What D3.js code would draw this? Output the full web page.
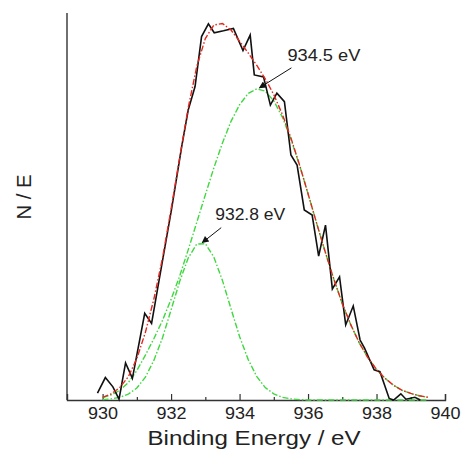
<!DOCTYPE html>
<html>
<head>
<meta charset="utf-8">
<script src="https://cdn.jsdelivr.net/npm/d3@7"></script>
<style>
    body { margin: 0; background: #fff; }
    svg { font-family: "Liberation Sans", Arial, sans-serif; }
</style>
</head>
<body>
<div id="chart"></div>
<script>

// measured spectrum (energy in eV, intensity in arbitrary units)
const measuredEnergy = [929.85, 930.08, 930.30, 930.48, 930.67, 930.87, 931.23, 931.43, 931.65, 932.01,
    932.31, 932.50, 932.70, 932.89, 933.09, 933.26, 933.53, 933.82, 934.10, 934.31,
    934.43, 934.70, 934.90, 935.09, 935.31, 935.50, 935.68, 935.89, 936.12, 936.31,
    936.51, 936.71, 936.92, 937.10, 937.32, 937.52, 937.65, 937.93, 938.10, 938.37,
    938.50, 938.71, 938.86, 939.12, 939.28];
const measuredCounts = [1.8, 5.8, 3.4, 0.2, 9.6, 5.6, 22.4, 19.8, 31.0, 49.1,
    65.5, 74.9, 81.0, 93.9, 97.2, 94.9, 95.4, 96.0, 90.3, 94.3,
    84.0, 83.5, 76.2, 79.3, 77.1, 63.3, 60.7, 49.1, 47.8, 37.2,
    45.2, 28.7, 31.8, 19.4, 24.3, 15.5, 13.4, 7.8, 7.3, 0.4,
    0.0, 1.6, 0.2, 0.7, 0.0];

// fit curves, sampled every 0.25 eV
const fitEnergy = [930.0, 930.25, 930.5, 930.75, 931.0, 931.25, 931.5, 931.75, 932.0, 932.25,
    932.5, 932.75, 933.0, 933.25, 933.5, 933.75, 934.0, 934.25, 934.5, 934.75,
    935.0, 935.25, 935.5, 935.75, 936.0, 936.25, 936.5, 936.75, 937.0, 937.25,
    937.5, 937.75, 938.0, 938.25, 938.5, 938.75, 939.0, 939.25, 939.5];
const peakLow = [0.1, 0.3, 0.7, 1.5, 3.1, 5.9, 10.3, 16.1, 23.3, 30.6,
    36.7, 40.3, 40.4, 36.9, 30.9, 23.6, 16.4, 10.5, 6.1, 3.2,
    1.6, 0.7, 0.3, 0.1, 0.0, 0.0, 0.0, 0.0, 0.0, 0.0,
    0.0, 0.0, 0.0, 0.0, 0.0, 0.0, 0.0, 0.0, 0.0];
const peakHigh = [0.6, 1.3, 2.5, 4.5, 7.6, 11.6, 15.9, 20.6, 26.0, 32.0,
    38.8, 45.9, 53.0, 60.0, 66.4, 72.0, 76.3, 79.2, 80.4, 79.8,
    77.3, 73.1, 67.4, 60.7, 53.3, 45.7, 38.3, 31.3, 24.9, 19.4,
    14.7, 10.9, 7.9, 5.6, 3.8, 2.5, 1.7, 1.1, 0.7];
const fitSum = [0.7, 1.6, 3.2, 6.0, 10.7, 17.5, 26.2, 36.7, 49.3, 62.6,
    75.5, 86.2, 93.4, 96.9, 97.3, 95.6, 92.7, 89.7, 86.5, 83.0,
    78.9, 73.8, 67.7, 60.8, 53.3, 45.7, 38.3, 31.3, 24.9, 19.4,
    14.7, 10.9, 7.9, 5.6, 3.8, 2.5, 1.7, 1.1, 0.7];

// peak labels
const peakLabels = ["934.5 eV", "932.8 eV"];
const peakPositions = [934.55, 932.88];
const peakHeights = [80.4, 40.4];

const xTicks = [930, 932, 934, 936, 938, 940];

// drawing area
let margin = {left: 67, right: 17, top: 13, bottom: 54};
let width = 462 - margin.left - margin.right;
let height = 454 - margin.top - margin.bottom;

let svg = d3.select("#chart").append("svg")
    .attr("width", 462)
    .attr("height", 454)
    .append("g")
    .attr("transform", "translate(" + margin.left + "," + margin.top + ")");

svg.append("defs").append("marker")
    .attr("id", "arrow")
    .attr("viewBox", "0 0 10 10")
    .attr("refX", 9).attr("refY", 5)
    .attr("markerWidth", 9).attr("markerHeight", 7)
    .attr("markerUnits", "userSpaceOnUse")
    .attr("orient", "auto")
    .append("path")
    .attr("d", "M0,0 L10,5 L0,10 z")
    .attr("fill", "#111");

// scales
let x = d3.scaleLinear().domain([928.96, 940]).range([0, width]);
let y = d3.scaleLinear().domain([0, 100]).range([height, 0]);

// bottom axis, ticks drawn inward
let xAxis = svg.append("g")
    .attr("transform", "translate(0," + height + ")")
    .call(d3.axisBottom(x).tickValues(xTicks).tickFormat(d3.format("d")).tickSize(-6).tickPadding(8));
xAxis.select(".domain").attr("stroke", "#333").attr("stroke-width", 1.4);
xAxis.selectAll(".tick line").attr("stroke", "#333").attr("stroke-width", 1.2);
xAxis.selectAll(".tick text")
    .attr("font-size", 16)
    .attr("fill", "#222")
    .attr("font-family", "Liberation Sans, Arial, sans-serif")
    .attr("textLength", 30)
    .attr("lengthAdjust", "spacingAndGlyphs");

// minor ticks
svg.append("g")
    .attr("transform", "translate(0," + height + ")")
    .call(d3.axisBottom(x).tickValues([931, 933, 935, 937, 939]).tickFormat("").tickSize(-3))
    .call(g => g.select(".domain").remove())
    .selectAll(".tick line").attr("stroke", "#333").attr("stroke-width", 1.2);

// left axis line only
svg.append("line")
    .attr("x1", 0).attr("x2", 0)
    .attr("y1", 0).attr("y2", height)
    .attr("stroke", "#333").attr("stroke-width", 1.4);

// axis titles
svg.append("text")
    .attr("x", width / 2 - 2)
    .attr("y", height + 45)
    .attr("text-anchor", "middle")
    .attr("font-size", 20)
    .attr("fill", "#222")
    .attr("textLength", 213)
    .attr("lengthAdjust", "spacingAndGlyphs")
    .text("Binding Energy / eV");

svg.append("text")
    .attr("transform", "translate(-36," + (197 - margin.top) + ") rotate(-90)")
    .attr("text-anchor", "middle")
    .attr("font-size", 20)
    .attr("fill", "#222")
    .attr("textLength", 45)
    .attr("lengthAdjust", "spacingAndGlyphs")
    .text("N / E");

let line = d3.line()
    .x(d => x(d[0]))
    .y(d => y(d[1]));

// fitted components (green dash-dot)
[peakLow, peakHigh].forEach(function (series) {
    svg.append("path")
        .datum(fitEnergy.map((e, i) => [e, series[i]]))
        .attr("d", line)
        .attr("fill", "none")
        .attr("stroke", "#3fd83f")
        .attr("stroke-width", 1.4)
        .attr("stroke-dasharray", "6,2,1.5,2");
});

// measured spectrum (black)
svg.append("path")
    .datum(measuredEnergy.map((e, i) => [e, measuredCounts[i]]))
    .attr("d", line)
    .attr("fill", "none")
    .attr("stroke", "#111")
    .attr("stroke-width", 1.6);

// envelope (red dash-dot)
svg.append("path")
    .datum(fitEnergy.map((e, i) => [e, fitSum[i]]))
    .attr("d", line)
    .attr("fill", "none")
    .attr("stroke", "#e5271f")
    .attr("stroke-width", 1.4)
    .attr("stroke-dasharray", "6,2,1.5,2");

// annotations with arrows
let labelOffsets = [{dx: 33, dy: -21, tx: 29, ty: -28, w: 73}, {dx: 20, dy: -16, tx: 14, ty: -24, w: 70}];
peakLabels.forEach(function (label, i) {
    let px = x(peakPositions[i]);
    let py = y(peakHeights[i]);
    let o = labelOffsets[i];
    svg.append("line")
        .attr("x1", px + o.dx).attr("y1", py + o.dy)
        .attr("x2", px + 1).attr("y2", py - 1)
        .attr("stroke", "#111").attr("stroke-width", 1)
        .attr("marker-end", "url(#arrow)");
    svg.append("text")
        .attr("x", px + o.tx)
        .attr("y", py + o.ty)
        .attr("font-size", 16)
        .attr("fill", "#222")
        .attr("textLength", o.w)
        .attr("lengthAdjust", "spacingAndGlyphs")
        .text(label);
});

</script>
</body>
</html>
